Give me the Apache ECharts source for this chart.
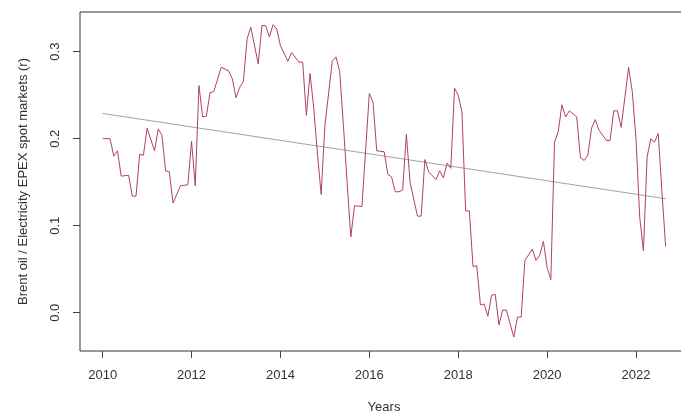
<!DOCTYPE html>
<html>
<head>
<meta charset="utf-8">
<script src="https://cdn.jsdelivr.net/npm/echarts@6/dist/echarts.min.js"></script>
<style>
  html, body { margin: 0; padding: 0; background: #ffffff; }
  #chart { width: 681px; height: 416px; }
</style>
</head>
<body>
<div id="chart"></div>
<script>
// Rolling correlation between Brent oil and EPEX spot electricity prices (monthly turning points)
const months = [
  "2010-01","2010-03","2010-04","2010-05","2010-06","2010-08","2010-09","2010-10","2010-11","2010-12",
  "2011-01","2011-03","2011-04","2011-05","2011-06","2011-07","2011-08","2011-10","2011-12",
  "2012-01","2012-02","2012-03","2012-04","2012-05","2012-06","2012-07","2012-09","2012-11","2012-12",
  "2013-01","2013-02","2013-03","2013-04","2013-05","2013-07","2013-08","2013-09","2013-10","2013-11","2013-12",
  "2014-01","2014-03","2014-04","2014-06","2014-07","2014-08","2014-09","2014-10","2014-11","2014-12",
  "2015-01","2015-03","2015-04","2015-05","2015-06","2015-07","2015-08","2015-09","2015-11",
  "2016-01","2016-02","2016-03","2016-05","2016-06","2016-07","2016-08","2016-09","2016-10","2016-11","2016-12",
  "2017-02","2017-03","2017-04","2017-05","2017-07","2017-08","2017-09","2017-10","2017-11","2017-12",
  "2018-01","2018-02","2018-03","2018-04","2018-05","2018-06","2018-07","2018-08","2018-09","2018-10","2018-11","2018-12",
  "2019-01","2019-02","2019-04","2019-05","2019-06","2019-07","2019-09","2019-10","2019-11","2019-12",
  "2020-01","2020-02","2020-03","2020-04","2020-05","2020-06","2020-07","2020-09","2020-10","2020-11","2020-12",
  "2021-01","2021-02","2021-03","2021-05","2021-06","2021-07","2021-08","2021-09","2021-11","2021-12",
  "2022-01","2022-02","2022-03","2022-04","2022-05","2022-06","2022-07","2022-08","2022-09"
];
const correlation = [
  0.200,0.200,0.180,0.186,0.157,0.158,0.134,0.134,0.182,0.181,
  0.212,0.186,0.211,0.204,0.163,0.162,0.126,0.146,0.147,
  0.197,0.146,0.261,0.225,0.226,0.253,0.254,0.282,0.278,0.269,
  0.247,0.259,0.266,0.315,0.328,0.286,0.330,0.330,0.317,0.331,0.326,
  0.307,0.289,0.299,0.288,0.288,0.227,0.275,0.235,0.182,0.136,
  0.215,0.289,0.294,0.277,0.215,0.150,0.087,0.123,0.122,
  0.252,0.242,0.186,0.185,0.159,0.156,0.139,0.139,0.141,0.205,0.150,
  0.111,0.111,0.176,0.162,0.153,0.163,0.155,0.172,0.166,0.258,
  0.250,0.231,0.117,0.117,0.053,0.054,0.009,0.010,-0.004,0.020,0.021,-0.014,
  0.003,0.003,-0.028,-0.005,-0.005,0.060,0.073,0.060,0.066,0.082,
  0.052,0.038,0.196,0.208,0.239,0.225,0.232,0.225,0.178,0.175,0.181,
  0.212,0.222,0.210,0.198,0.198,0.232,0.232,0.213,0.282,0.254,
  0.200,0.110,0.071,0.179,0.200,0.196,0.206,0.139,0.076
];
// Linear trend fitted over the whole period (start and end)
const trendMonths = ["2010-01", "2022-09"];
const trendValues = [0.229, 0.131];

const xTicks = [2010, 2012, 2014, 2016, 2018, 2020, 2022];
const yTicks = [0.0, 0.1, 0.2, 0.3];

function toYear(m) {
  const [y, mo] = m.split("-").map(Number);
  return y + (mo - 1) / 12;
}

const seriesData = months.map((m, i) => [toYear(m), correlation[i]]);
const trendData = trendMonths.map((m, i) => [toYear(m), trendValues[i]]);

const textColor = "#333333";
const font = "Liberation Sans, Arial, sans-serif";

const chart = echarts.init(document.getElementById("chart"), null, { renderer: "canvas" });
chart.setOption({
  animation: false,
  backgroundColor: "#ffffff",
  grid: {
    left: 80, top: 12, width: 608, height: 339,
    outerBoundsMode: "none",
    containLabel: false,
    show: true, borderColor: "#333333", borderWidth: 1, backgroundColor: "transparent"
  },
  xAxis: {
    type: "value",
    min: 2009.49, max: 2023.17,
    name: "Years",
    nameLocation: "middle",
    nameGap: 50,
    nameTextStyle: { color: textColor, fontSize: 13, fontFamily: font },
    splitLine: { show: false },
    axisLine: { show: false, onZero: false },
    axisTick: { show: true, inside: false, length: 7, customValues: xTicks, lineStyle: { color: "#444444" } },
    axisLabel: {
      customValues: xTicks, margin: 18, color: textColor, fontSize: 13, fontFamily: font,
      formatter: v => String(Math.round(v))
    }
  },
  yAxis: {
    type: "value",
    min: -0.044, max: 0.3456,
    name: "Brent oil / Electricity EPEX spot markets (r)",
    nameLocation: "middle",
    nameRotate: 90,
    nameGap: 50,
    nameTextStyle: { color: textColor, fontSize: 13, fontFamily: font },
    splitLine: { show: false },
    axisLine: { show: false, onZero: false },
    axisTick: { show: true, inside: false, length: 7, customValues: yTicks, lineStyle: { color: "#444444" } },
    axisLabel: {
      customValues: yTicks, rotate: 90, margin: 25, align: "center", verticalAlign: "middle",
      color: textColor, fontSize: 13, fontFamily: font,
      formatter: v => v.toFixed(1)
    }
  },
  series: [
    {
      name: "trend",
      type: "line",
      data: trendData,
      showSymbol: false,
      lineStyle: { color: "#a3a3a3", width: 1 },
      silent: true,
      z: 2
    },
    {
      name: "correlation",
      type: "line",
      data: seriesData,
      showSymbol: false,
      lineStyle: { color: "#b0406a", width: 1 },
      silent: true,
      z: 3
    }
  ]
});
</script>
</body>
</html>
